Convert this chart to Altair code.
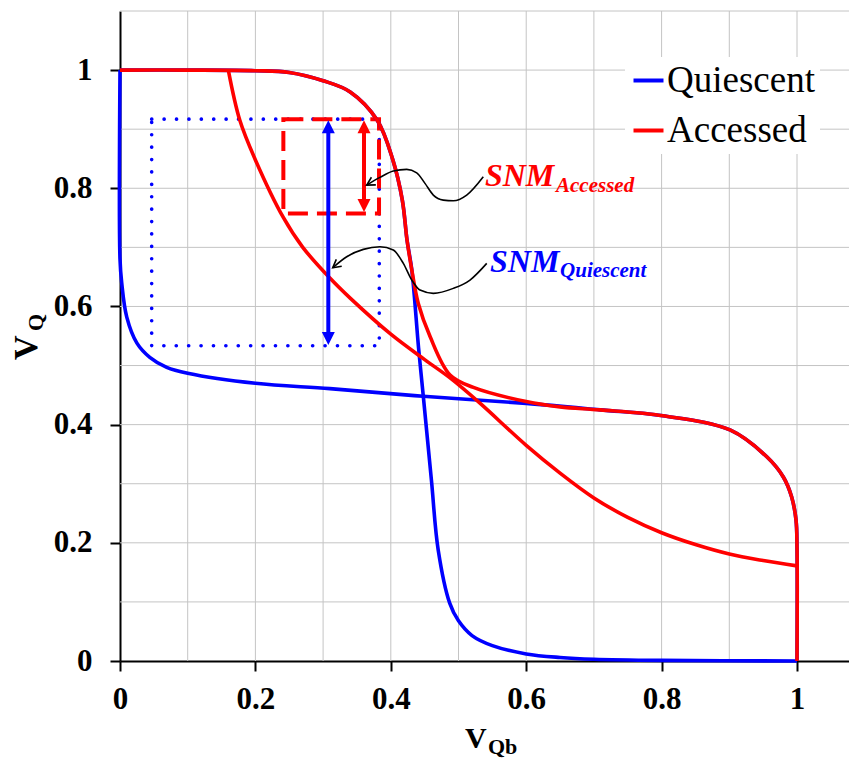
import altair as alt
import pandas as pd

# ---------------- axes ----------------
X_MAX = 1.0768
Y_MAX = 1.1
x_ticks = [0, 0.2, 0.4, 0.6, 0.8, 1.0]
y_ticks = [0, 0.2, 0.4, 0.6, 0.8, 1.0]
x_grid = [0.1, 0.2, 0.3, 0.4, 0.5, 0.6, 0.7, 0.8, 0.9, 1.0]
y_grid = [0.1, 0.2, 0.3, 0.4, 0.5, 0.6, 0.7, 0.8, 0.9, 1.0, 1.1]

series_names = ["Quiescent", "Accessed"]
series_colors = ["#0000ff", "#ff0000"]

# ---------------- curves ----------------
# Quiescent: inverter VTC (steep drop near 0.45)
q_vtc_x = [0, 0.1, 0.2, 0.25, 0.3, 0.34, 0.38, 0.403, 0.417, 0.424, 0.431, 0.441, 0.448,
           0.46, 0.47, 0.487, 0.5, 0.52, 0.55, 0.6, 0.65, 0.7, 0.8, 1.0]
q_vtc_y = [1.0, 1.0, 0.999, 0.996, 0.982, 0.963, 0.915, 0.848, 0.78, 0.712, 0.662, 0.53, 0.448,
           0.306, 0.188, 0.098, 0.068, 0.043, 0.026, 0.012, 0.006, 0.003, 0.001, 0.0]
# Quiescent: mirrored VTC
q_mir_x = [0, 0, 0.0025, 0.01, 0.025, 0.044, 0.069, 0.1, 0.2, 0.31, 0.448, 0.6, 0.709,
           0.802, 0.901, 0.955, 0.98, 0.992, 0.9985, 1.0, 1.0]
q_mir_y = [1.0, 0.68, 0.64, 0.582, 0.538, 0.514, 0.497, 0.487, 0.47, 0.461, 0.448, 0.436, 0.425,
           0.415, 0.391, 0.346, 0.311, 0.278, 0.239, 0.193, 0.0]
# Accessed: first curve
a_vtc_x = [0, 0.1, 0.2, 0.25, 0.3, 0.34, 0.38, 0.403, 0.417, 0.424, 0.431, 0.4406, 0.458,
           0.4875, 0.522, 0.6, 0.65, 0.709, 0.802, 0.901, 0.955, 0.98, 0.992, 0.9985, 1.0, 1.0]
a_vtc_y = [1.0, 1.0, 0.999, 0.996, 0.982, 0.963, 0.915, 0.848, 0.78, 0.712, 0.662, 0.605, 0.549,
           0.484, 0.463, 0.439, 0.430, 0.425, 0.415, 0.391, 0.346, 0.311, 0.278, 0.239, 0.193, 0.0]
# Accessed: second curve
a_mir_x = [0.16, 0.177, 0.2, 0.241, 0.27, 0.31, 0.34, 0.4, 0.45, 0.4875, 0.53, 0.6, 0.65,
           0.7, 0.75, 0.8, 0.85, 0.9, 0.95, 1.0]
a_mir_y = [1.0, 0.915, 0.848, 0.751, 0.70, 0.648, 0.614, 0.553, 0.510, 0.479, 0.438, 0.365, 0.318,
           0.276, 0.243, 0.217, 0.197, 0.181, 0.170, 0.161]

# ---------------- SNM boxes and arrows ----------------
box_x1 = [0.0468, 0.2413]
box_x2 = [0.383, 0.3826]
box_y1 = [0.5335, 0.7575]
box_y2 = [0.917, 0.917]

arrow_x = [0.3077, 0.3604]
arrow_lo = [0.5347, 0.760]
arrow_hi = [0.915, 0.915]
arrow_names = ["Quiescent", "Accessed"]

# annotation leader curves (SNM labels)
lead_acc_x = [0.3644, 0.3840, 0.4037, 0.4235, 0.4383, 0.4505, 0.4628, 0.4775, 0.4923, 0.5121, 0.5366]
lead_acc_y = [0.8054, 0.8184, 0.8291, 0.8320, 0.8262, 0.8083, 0.7885, 0.7800, 0.7788, 0.7885, 0.8195]
lead_q_x = [0.3142, 0.3349, 0.3594, 0.3840, 0.4037, 0.4185, 0.4309, 0.4431, 0.4628, 0.4923, 0.5170, 0.5417]
lead_q_y = [0.6655, 0.6841, 0.6966, 0.7010, 0.6954, 0.6729, 0.6447, 0.6277, 0.6222, 0.6306, 0.6447, 0.6729]
lead_angle = [330, 322]

snm_main_x = [0.539, 0.5465]
snm_main_y = [0.804, 0.6587]
snm_sub_x = [0.644, 0.650]
snm_sub_y = [0.794, 0.650]
snm_sub_text = ["Accessed", "Quiescent"]

# ---------------- build tables ----------------
def curve_df(xv, yv, series, cid):
    return pd.DataFrame({"x": xv, "y": yv, "series": series, "curve": cid,
                         "i": list(range(len(xv)))})

df_blue = pd.concat([curve_df(q_vtc_x, q_vtc_y, "Quiescent", "q1"),
                     curve_df(q_mir_x, q_mir_y, "Quiescent", "q2")])
df_red = pd.concat([curve_df(a_vtc_x, a_vtc_y, "Accessed", "a1"),
                    curve_df(a_mir_x, a_mir_y, "Accessed", "a2")])

FONT = "Liberation Serif"
HEAD = 0.016

xs = alt.Scale(domain=[0, X_MAX], nice=False, zero=False)
ys = alt.Scale(domain=[0, Y_MAX], nice=False, zero=False)
x_axis = alt.Axis(values=x_ticks, format="~g", title=None, grid=False, labelFont=FONT,
                  labelFontSize=31, labelFontWeight="bold", labelColor="black",
                  labelPadding=13, tickSize=10, tickWidth=2, tickColor="black",
                  domainColor="black", domainWidth=2, labelFlush=False, labelOverlap=False)
y_axis = alt.Axis(values=y_ticks, format="~g", title=None, grid=False, labelFont=FONT,
                  labelFontSize=31, labelFontWeight="bold", labelColor="black",
                  labelPadding=18, tickSize=10, tickWidth=2, tickColor="black",
                  domainColor="black", domainWidth=2, labelFlush=False, labelOverlap=False)


def X(f):
    return alt.X(f, type="quantitative", scale=xs, axis=x_axis)


def Y(f):
    return alt.Y(f, type="quantitative", scale=ys, axis=y_axis)


legend = alt.Legend(title=None, orient="none", legendX=505, legendY=46, symbolType="stroke",
                    symbolStrokeWidth=4, symbolSize=900, labelFont=FONT, labelFontSize=37,
                    labelColor="black", fillColor="white", padding=5, rowPadding=12,
                    labelOffset=0, labelLimit=400, symbolOffset=0)
color_enc = alt.Color("series:N", scale=alt.Scale(domain=series_names, range=series_colors),
                      legend=legend)

grid_v = alt.Chart(pd.DataFrame({"x": x_grid})).mark_rule(color="#c4c4c4", strokeWidth=1).encode(
    x=X("x"))
grid_h = alt.Chart(pd.DataFrame({"y": y_grid})).mark_rule(color="#c4c4c4", strokeWidth=1).encode(
    y=Y("y"))

blue = alt.Chart(df_blue).mark_line(strokeWidth=3.6, interpolate="catmull-rom").encode(
    x=X("x"), y=Y("y"), color=color_enc, detail="curve:N", order="i:Q")
red = alt.Chart(df_red).mark_line(strokeWidth=3.6, interpolate="catmull-rom").encode(
    x=X("x"), y=Y("y"), color=color_enc, detail="curve:N", order="i:Q")

boxes = pd.DataFrame({"x1": box_x1, "x2": box_x2, "y1": box_y1, "y2": box_y2})
box_q = alt.Chart(boxes.iloc[[0]]).mark_rect(fill="transparent", stroke="#0000ff", strokeWidth=3.6,
                                             strokeDash=[0.1, 12.3], strokeCap="round").encode(
    x=X("x1"), x2="x2", y=Y("y1"), y2="y2")
box_a = alt.Chart(boxes.iloc[[1]]).mark_rect(fill="transparent", stroke="#ff0000", strokeWidth=4,
                                             strokeDash=[20, 9]).encode(
    x=X("x1"), x2="x2", y=Y("y1"), y2="y2")

arrows = pd.DataFrame({"x": arrow_x, "lo": arrow_lo, "hi": arrow_hi, "name": arrow_names})
arrows["lo_s"] = arrows["lo"] + HEAD
arrows["hi_s"] = arrows["hi"] - HEAD
arrow_layers = []
for k, col in enumerate(series_colors):
    d = arrows.iloc[[k]]
    arrow_layers.append(alt.Chart(d).mark_rule(color=col, strokeWidth=4).encode(
        x=X("x"), y=Y("lo_s"), y2="hi_s"))
    arrow_layers.append(alt.Chart(d).mark_point(shape="M0,0L-1,2L1,2Z", filled=True, size=169,
                                                color=col, opacity=1, strokeWidth=0).encode(
        x=X("x"), y=Y("hi")))
    arrow_layers.append(alt.Chart(d).mark_point(shape="M0,0L-1,-2L1,-2Z", filled=True, size=169,
                                                color=col, opacity=1, strokeWidth=0).encode(
        x=X("x"), y=Y("lo")))

lead_df = pd.concat([
    pd.DataFrame({"x": lead_acc_x, "y": lead_acc_y, "g": "acc", "i": range(len(lead_acc_x))}),
    pd.DataFrame({"x": lead_q_x, "y": lead_q_y, "g": "q", "i": range(len(lead_q_x))}),
])
leads = alt.Chart(lead_df).mark_line(color="black", strokeWidth=1.6, interpolate="monotone").encode(
    x=X("x"), y=Y("y"), detail="g:N", order="i:Q")
tips = pd.DataFrame({"x": [lead_acc_x[0], lead_q_x[0]], "y": [lead_acc_y[0], lead_q_y[0]],
                     "ang": lead_angle})
tip_marks = alt.Chart(tips).mark_point(shape="M2,-1.1L0,0L2,1.1", filled=False, size=64,
                                       color="black", opacity=1, strokeWidth=1.6).encode(
    x=X("x"), y=Y("y"), angle=alt.Angle("ang:Q", scale=None))

snm_df = pd.DataFrame({"x": snm_main_x, "y": snm_main_y, "t": ["SNM", "SNM"],
                       "c": ["#ff0000", "#0000ff"],
                       "sx": snm_sub_x, "sy": snm_sub_y, "st": snm_sub_text})
snm_main = alt.Chart(snm_df).mark_text(font=FONT, fontSize=32, fontStyle="italic", fontWeight="bold",
                                       align="left", baseline="alphabetic").encode(
    x=X("x"), y=Y("y"), text="t:N", color=alt.Color("c:N", scale=None))
snm_sub = alt.Chart(snm_df).mark_text(font=FONT, fontSize=21, fontStyle="italic", fontWeight="bold",
                                      align="left", baseline="alphabetic").encode(
    x=X("sx"), y=Y("sy"), text="st:N", color=alt.Color("c:N", scale=None))

one = alt.Data(values=[{"a": 1}])
xt_v = alt.Chart(one).mark_text(text="V", font=FONT, fontSize=30, fontWeight="bold", color="black",
                                align="left", baseline="alphabetic").encode(
    x=alt.value(345), y=alt.value(737))
xt_s = alt.Chart(one).mark_text(text="Qb", font=FONT, fontSize=22, fontWeight="bold", color="black",
                                align="left", baseline="alphabetic").encode(
    x=alt.value(368), y=alt.value(743))
yt_v = alt.Chart(one).mark_text(text="V", font=FONT, fontSize=34, fontWeight="bold", color="black",
                                align="left", baseline="alphabetic", angle=270).encode(
    x=alt.value(-83), y=alt.value(349))
yt_s = alt.Chart(one).mark_text(text="Q", font=FONT, fontSize=22, fontWeight="bold", color="black",
                                align="left", baseline="alphabetic", angle=270).encode(
    x=alt.value(-77), y=alt.value(320))

chart = alt.layer(
    grid_v, grid_h, box_q, box_a, blue, red, *arrow_layers, leads, tip_marks,
    snm_main, snm_sub, xt_v, xt_s, yt_v, yt_s
).properties(
    width=729, height=650,
    autosize=alt.AutoSizeParams(type="none"),
    padding={"left": 112, "top": 3, "right": 0, "bottom": 99},
    background="white",
).configure_view(strokeWidth=0)

chart.save("out.html", embed_options={"renderer": "svg", "actions": False})
